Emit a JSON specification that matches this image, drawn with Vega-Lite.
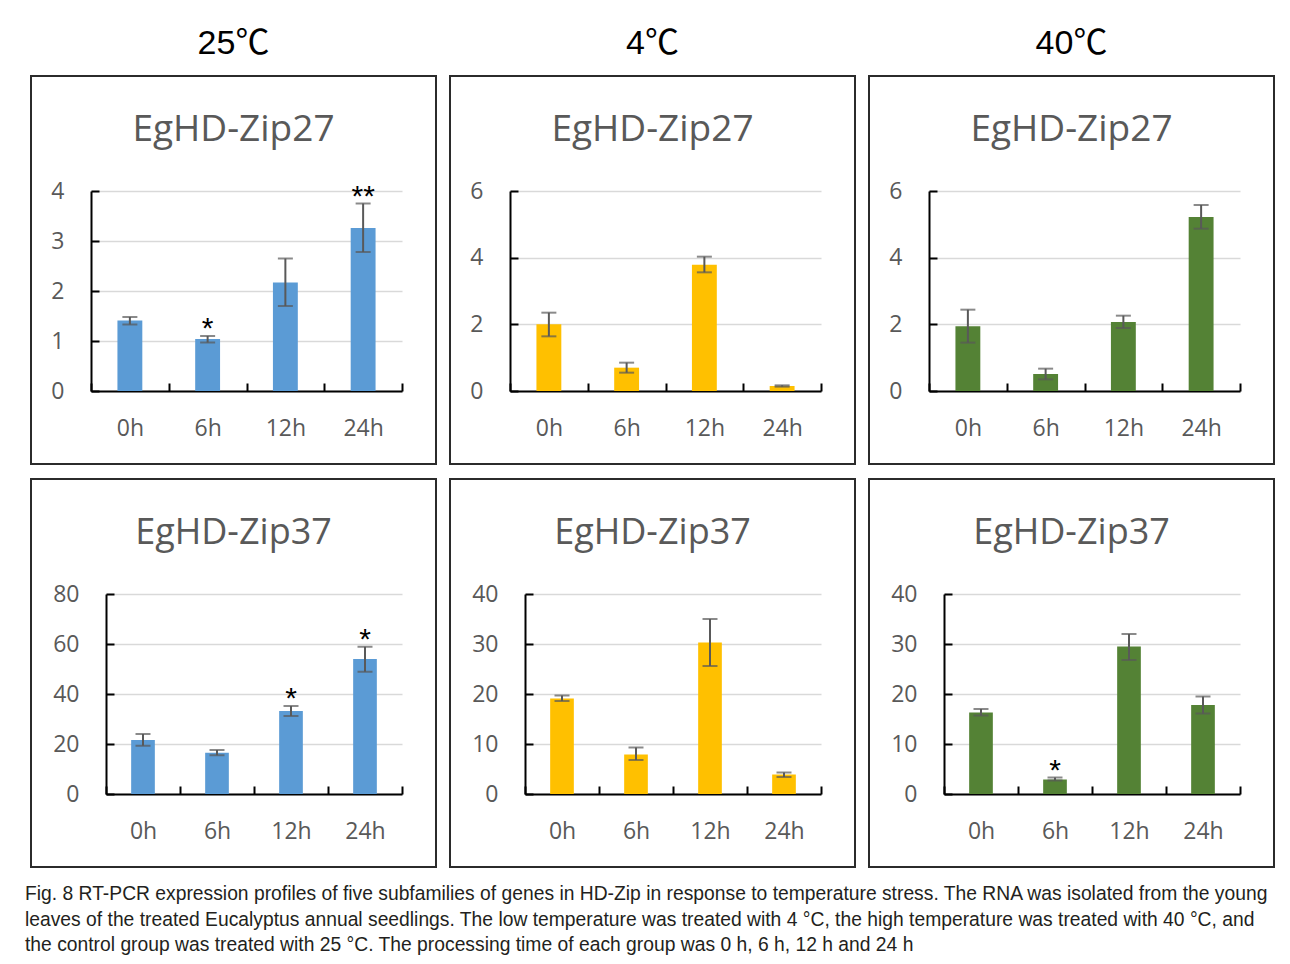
{
  "$schema": "https://vega.github.io/schema/vega-lite/v6.json",
  "padding": {"left": 25, "top": 25, "right": 5, "bottom": 5},
  "background": "white",
  "datasets": {
    "d": [
      {"temp": "25℃", "gene": "EgHD-Zip27", "time": "0h", "mean": 1.41, "lo": 1.33, "hi": 1.48, "sig": ""},
      {"temp": "25℃", "gene": "EgHD-Zip27", "time": "6h", "mean": 1.04, "lo": 0.97, "hi": 1.10, "sig": "*"},
      {"temp": "25℃", "gene": "EgHD-Zip27", "time": "12h", "mean": 2.17, "lo": 1.70, "hi": 2.65, "sig": ""},
      {"temp": "25℃", "gene": "EgHD-Zip27", "time": "24h", "mean": 3.26, "lo": 2.78, "hi": 3.75, "sig": "**"},
      {"temp": "4℃", "gene": "EgHD-Zip27", "time": "0h", "mean": 2.0, "lo": 1.64, "hi": 2.35, "sig": ""},
      {"temp": "4℃", "gene": "EgHD-Zip27", "time": "6h", "mean": 0.70, "lo": 0.55, "hi": 0.85, "sig": ""},
      {"temp": "4℃", "gene": "EgHD-Zip27", "time": "12h", "mean": 3.79, "lo": 3.56, "hi": 4.03, "sig": ""},
      {"temp": "4℃", "gene": "EgHD-Zip27", "time": "24h", "mean": 0.15, "lo": 0.13, "hi": 0.17, "sig": ""},
      {"temp": "40℃", "gene": "EgHD-Zip27", "time": "0h", "mean": 1.94, "lo": 1.45, "hi": 2.44, "sig": ""},
      {"temp": "40℃", "gene": "EgHD-Zip27", "time": "6h", "mean": 0.51, "lo": 0.35, "hi": 0.67, "sig": ""},
      {"temp": "40℃", "gene": "EgHD-Zip27", "time": "12h", "mean": 2.07, "lo": 1.89, "hi": 2.26, "sig": ""},
      {"temp": "40℃", "gene": "EgHD-Zip27", "time": "24h", "mean": 5.22, "lo": 4.87, "hi": 5.58, "sig": ""},
      {"temp": "25℃", "gene": "EgHD-Zip37", "time": "0h", "mean": 21.6, "lo": 19.3, "hi": 24.0, "sig": ""},
      {"temp": "25℃", "gene": "EgHD-Zip37", "time": "6h", "mean": 16.5, "lo": 15.5, "hi": 17.6, "sig": ""},
      {"temp": "25℃", "gene": "EgHD-Zip37", "time": "12h", "mean": 33.2, "lo": 31.2, "hi": 35.2, "sig": "*"},
      {"temp": "25℃", "gene": "EgHD-Zip37", "time": "24h", "mean": 54.0, "lo": 48.9, "hi": 58.9, "sig": "*"},
      {"temp": "4℃", "gene": "EgHD-Zip37", "time": "0h", "mean": 19.1, "lo": 18.6, "hi": 19.7, "sig": ""},
      {"temp": "4℃", "gene": "EgHD-Zip37", "time": "6h", "mean": 7.9, "lo": 6.8, "hi": 9.3, "sig": ""},
      {"temp": "4℃", "gene": "EgHD-Zip37", "time": "12h", "mean": 30.3, "lo": 25.6, "hi": 35.0, "sig": ""},
      {"temp": "4℃", "gene": "EgHD-Zip37", "time": "24h", "mean": 3.9, "lo": 3.4, "hi": 4.3, "sig": ""},
      {"temp": "40℃", "gene": "EgHD-Zip37", "time": "0h", "mean": 16.3, "lo": 15.7, "hi": 17.0, "sig": ""},
      {"temp": "40℃", "gene": "EgHD-Zip37", "time": "6h", "mean": 2.9, "lo": 2.7, "hi": 3.3, "sig": "*"},
      {"temp": "40℃", "gene": "EgHD-Zip37", "time": "12h", "mean": 29.5, "lo": 26.8, "hi": 32.0, "sig": ""},
      {"temp": "40℃", "gene": "EgHD-Zip37", "time": "24h", "mean": 17.8, "lo": 16.1, "hi": 19.5, "sig": ""}
    ]
  },
  "data": {"name": "d"},
  "title": {
    "text": [
      "Fig. 8 RT-PCR expression profiles of five subfamilies of genes in HD-Zip in response to temperature stress. The RNA was isolated from the young",
      "leaves of the treated Eucalyptus annual seedlings. The low temperature was treated with 4 °C, the high temperature was treated with 40 °C, and",
      "the control group was treated with 25 °C. The processing time of each group was 0 h, 6 h, 12 h and 24 h"
    ],
    "orient": "bottom",
    "anchor": "start",
    "font": "Liberation Sans",
    "fontSize": 19.3,
    "fontWeight": "normal",
    "color": "#231f20",
    "lineHeight": 25.5,
    "offset": 17,
    "dx": -5
  },
  "spacing": 13,
  "vconcat": [
    {
      "spacing": 12,
      "hconcat": [
        {
          "width": 405, "height": 388,
          "title": {"text": "25℃", "subtitle": "EgHD-Zip27"},
          "transform": [{"filter": {"and": [{"field": "temp", "equal": "25℃"}, {"field": "gene", "equal": "EgHD-Zip27"}]}}],
          "layer": [
            {"mark": {"type": "bar", "color": "#5B9BD5", "width": {"band": 0.32}},
             "encoding": {
               "x": {"field": "time", "type": "ordinal", "title": null, "scale": {"domain": ["0h", "6h", "12h", "24h"], "range": [60, 371], "paddingInner": 0, "paddingOuter": 0}, "axis": {"offset": -73}},
               "y": {"field": "mean", "type": "quantitative", "title": null, "scale": {"domain": [0, 4], "range": [315, 115], "nice": false}, "axis": {"values": [0, 1, 2, 3, 4], "format": "d", "offset": -60}}}},
            {"mark": {"type": "rule", "color": "#595959", "strokeWidth": 2},
             "encoding": {"x": {"field": "time", "type": "ordinal"}, "y": {"field": "lo", "type": "quantitative", "title": null}, "y2": {"field": "hi"}}},
            {"mark": {"type": "tick", "color": "#595959", "thickness": 2, "size": 15},
             "encoding": {"x": {"field": "time", "type": "ordinal"}, "y": {"field": "lo", "type": "quantitative", "title": null}}},
            {"mark": {"type": "tick", "color": "#595959", "thickness": 2, "size": 15},
             "encoding": {"x": {"field": "time", "type": "ordinal"}, "y": {"field": "hi", "type": "quantitative", "title": null}}},
            {"mark": {"type": "text", "font": "Liberation Sans", "fontSize": 30, "color": "#000", "baseline": "alphabetic", "dy": 2},
             "encoding": {"x": {"field": "time", "type": "ordinal"}, "y": {"field": "hi", "type": "quantitative", "title": null}, "text": {"field": "sig"}}}
          ]
        },
        {
          "width": 405, "height": 388,
          "title": {"text": "4℃", "subtitle": "EgHD-Zip27"},
          "transform": [{"filter": {"and": [{"field": "temp", "equal": "4℃"}, {"field": "gene", "equal": "EgHD-Zip27"}]}}],
          "layer": [
            {"mark": {"type": "bar", "color": "#FFC000", "width": {"band": 0.32}},
             "encoding": {
               "x": {"field": "time", "type": "ordinal", "title": null, "scale": {"domain": ["0h", "6h", "12h", "24h"], "range": [60, 371], "paddingInner": 0, "paddingOuter": 0}, "axis": {"offset": -73}},
               "y": {"field": "mean", "type": "quantitative", "title": null, "scale": {"domain": [0, 6], "range": [315, 115], "nice": false}, "axis": {"values": [0, 2, 4, 6], "format": "d", "offset": -60}}}},
            {"mark": {"type": "rule", "color": "#595959", "strokeWidth": 2},
             "encoding": {"x": {"field": "time", "type": "ordinal"}, "y": {"field": "lo", "type": "quantitative", "title": null}, "y2": {"field": "hi"}}},
            {"mark": {"type": "tick", "color": "#595959", "thickness": 2, "size": 15},
             "encoding": {"x": {"field": "time", "type": "ordinal"}, "y": {"field": "lo", "type": "quantitative", "title": null}}},
            {"mark": {"type": "tick", "color": "#595959", "thickness": 2, "size": 15},
             "encoding": {"x": {"field": "time", "type": "ordinal"}, "y": {"field": "hi", "type": "quantitative", "title": null}}},
            {"mark": {"type": "text", "font": "Liberation Sans", "fontSize": 30, "color": "#000", "baseline": "alphabetic", "dy": 2},
             "encoding": {"x": {"field": "time", "type": "ordinal"}, "y": {"field": "hi", "type": "quantitative", "title": null}, "text": {"field": "sig"}}}
          ]
        },
        {
          "width": 405, "height": 388,
          "title": {"text": "40℃", "subtitle": "EgHD-Zip27"},
          "transform": [{"filter": {"and": [{"field": "temp", "equal": "40℃"}, {"field": "gene", "equal": "EgHD-Zip27"}]}}],
          "layer": [
            {"mark": {"type": "bar", "color": "#548235", "width": {"band": 0.32}},
             "encoding": {
               "x": {"field": "time", "type": "ordinal", "title": null, "scale": {"domain": ["0h", "6h", "12h", "24h"], "range": [60, 371], "paddingInner": 0, "paddingOuter": 0}, "axis": {"offset": -73}},
               "y": {"field": "mean", "type": "quantitative", "title": null, "scale": {"domain": [0, 6], "range": [315, 115], "nice": false}, "axis": {"values": [0, 2, 4, 6], "format": "d", "offset": -60}}}},
            {"mark": {"type": "rule", "color": "#595959", "strokeWidth": 2},
             "encoding": {"x": {"field": "time", "type": "ordinal"}, "y": {"field": "lo", "type": "quantitative", "title": null}, "y2": {"field": "hi"}}},
            {"mark": {"type": "tick", "color": "#595959", "thickness": 2, "size": 15},
             "encoding": {"x": {"field": "time", "type": "ordinal"}, "y": {"field": "lo", "type": "quantitative", "title": null}}},
            {"mark": {"type": "tick", "color": "#595959", "thickness": 2, "size": 15},
             "encoding": {"x": {"field": "time", "type": "ordinal"}, "y": {"field": "hi", "type": "quantitative", "title": null}}},
            {"mark": {"type": "text", "font": "Liberation Sans", "fontSize": 30, "color": "#000", "baseline": "alphabetic", "dy": 2},
             "encoding": {"x": {"field": "time", "type": "ordinal"}, "y": {"field": "hi", "type": "quantitative", "title": null}, "text": {"field": "sig"}}}
          ]
        }
      ]
    },
    {
      "spacing": 12,
      "hconcat": [
        {
          "width": 405, "height": 388,
          "title": {"text": "EgHD-Zip37", "font": "Open Sans", "fontSize": 36, "color": "#595959", "offset": -73},
          "transform": [{"filter": {"and": [{"field": "temp", "equal": "25℃"}, {"field": "gene", "equal": "EgHD-Zip37"}]}}],
          "layer": [
            {"mark": {"type": "bar", "color": "#5B9BD5", "width": {"band": 0.32}},
             "encoding": {
               "x": {"field": "time", "type": "ordinal", "title": null, "scale": {"domain": ["0h", "6h", "12h", "24h"], "range": [75, 371], "paddingInner": 0, "paddingOuter": 0}, "axis": {"offset": -73}},
               "y": {"field": "mean", "type": "quantitative", "title": null, "scale": {"domain": [0, 80], "range": [315, 115], "nice": false}, "axis": {"values": [0, 20, 40, 60, 80], "format": "d", "offset": -75}}}},
            {"mark": {"type": "rule", "color": "#595959", "strokeWidth": 2},
             "encoding": {"x": {"field": "time", "type": "ordinal"}, "y": {"field": "lo", "type": "quantitative", "title": null}, "y2": {"field": "hi"}}},
            {"mark": {"type": "tick", "color": "#595959", "thickness": 2, "size": 15},
             "encoding": {"x": {"field": "time", "type": "ordinal"}, "y": {"field": "lo", "type": "quantitative", "title": null}}},
            {"mark": {"type": "tick", "color": "#595959", "thickness": 2, "size": 15},
             "encoding": {"x": {"field": "time", "type": "ordinal"}, "y": {"field": "hi", "type": "quantitative", "title": null}}},
            {"mark": {"type": "text", "font": "Liberation Sans", "fontSize": 30, "color": "#000", "baseline": "alphabetic", "dy": 2},
             "encoding": {"x": {"field": "time", "type": "ordinal"}, "y": {"field": "hi", "type": "quantitative", "title": null}, "text": {"field": "sig"}}}
          ]
        },
        {
          "width": 405, "height": 388,
          "title": {"text": "EgHD-Zip37", "font": "Open Sans", "fontSize": 36, "color": "#595959", "offset": -73},
          "transform": [{"filter": {"and": [{"field": "temp", "equal": "4℃"}, {"field": "gene", "equal": "EgHD-Zip37"}]}}],
          "layer": [
            {"mark": {"type": "bar", "color": "#FFC000", "width": {"band": 0.32}},
             "encoding": {
               "x": {"field": "time", "type": "ordinal", "title": null, "scale": {"domain": ["0h", "6h", "12h", "24h"], "range": [75, 371], "paddingInner": 0, "paddingOuter": 0}, "axis": {"offset": -73}},
               "y": {"field": "mean", "type": "quantitative", "title": null, "scale": {"domain": [0, 40], "range": [315, 115], "nice": false}, "axis": {"values": [0, 10, 20, 30, 40], "format": "d", "offset": -75}}}},
            {"mark": {"type": "rule", "color": "#595959", "strokeWidth": 2},
             "encoding": {"x": {"field": "time", "type": "ordinal"}, "y": {"field": "lo", "type": "quantitative", "title": null}, "y2": {"field": "hi"}}},
            {"mark": {"type": "tick", "color": "#595959", "thickness": 2, "size": 15},
             "encoding": {"x": {"field": "time", "type": "ordinal"}, "y": {"field": "lo", "type": "quantitative", "title": null}}},
            {"mark": {"type": "tick", "color": "#595959", "thickness": 2, "size": 15},
             "encoding": {"x": {"field": "time", "type": "ordinal"}, "y": {"field": "hi", "type": "quantitative", "title": null}}},
            {"mark": {"type": "text", "font": "Liberation Sans", "fontSize": 30, "color": "#000", "baseline": "alphabetic", "dy": 2},
             "encoding": {"x": {"field": "time", "type": "ordinal"}, "y": {"field": "hi", "type": "quantitative", "title": null}, "text": {"field": "sig"}}}
          ]
        },
        {
          "width": 405, "height": 388,
          "title": {"text": "EgHD-Zip37", "font": "Open Sans", "fontSize": 36, "color": "#595959", "offset": -73},
          "transform": [{"filter": {"and": [{"field": "temp", "equal": "40℃"}, {"field": "gene", "equal": "EgHD-Zip37"}]}}],
          "layer": [
            {"mark": {"type": "bar", "color": "#548235", "width": {"band": 0.32}},
             "encoding": {
               "x": {"field": "time", "type": "ordinal", "title": null, "scale": {"domain": ["0h", "6h", "12h", "24h"], "range": [75, 371], "paddingInner": 0, "paddingOuter": 0}, "axis": {"offset": -73}},
               "y": {"field": "mean", "type": "quantitative", "title": null, "scale": {"domain": [0, 40], "range": [315, 115], "nice": false}, "axis": {"values": [0, 10, 20, 30, 40], "format": "d", "offset": -75}}}},
            {"mark": {"type": "rule", "color": "#595959", "strokeWidth": 2},
             "encoding": {"x": {"field": "time", "type": "ordinal"}, "y": {"field": "lo", "type": "quantitative", "title": null}, "y2": {"field": "hi"}}},
            {"mark": {"type": "tick", "color": "#595959", "thickness": 2, "size": 15},
             "encoding": {"x": {"field": "time", "type": "ordinal"}, "y": {"field": "lo", "type": "quantitative", "title": null}}},
            {"mark": {"type": "tick", "color": "#595959", "thickness": 2, "size": 15},
             "encoding": {"x": {"field": "time", "type": "ordinal"}, "y": {"field": "hi", "type": "quantitative", "title": null}}},
            {"mark": {"type": "text", "font": "Liberation Sans", "fontSize": 30, "color": "#000", "baseline": "alphabetic", "dy": 2},
             "encoding": {"x": {"field": "time", "type": "ordinal"}, "y": {"field": "hi", "type": "quantitative", "title": null}, "text": {"field": "sig"}}}
          ]
        }
      ]
    }
  ],
  "config": {
    "view": {"stroke": "#2b2b2b", "strokeWidth": 2},
    "axisX": {"tickBand": "extent", "labelAngle": 0, "domainColor": "#000", "domainWidth": 2, "tickColor": "#000", "tickWidth": 2, "tickSize": -8, "labelPadding": 45, "labelBaseline": "middle", "labelFont": "Open Sans", "labelFontSize": 23, "labelColor": "#595959", "grid": false},
    "axisY": {"domainColor": "#000", "domainWidth": 2, "tickColor": "#000", "tickWidth": 2, "tickSize": -8, "labelPadding": 35, "labelFont": "Open Sans", "labelFontSize": 23, "labelColor": "#595959", "grid": true, "gridColor": "#d9d9d9", "gridWidth": 1.5},
    "title": {"font": "Liberation Sans, Noto Sans CJK SC", "fontSize": 34, "fontWeight": "normal", "color": "#000", "subtitleFont": "Open Sans", "subtitleFontSize": 37, "subtitleColor": "#595959", "subtitlePadding": 51.5, "offset": -72, "anchor": "middle"}
  }
}
